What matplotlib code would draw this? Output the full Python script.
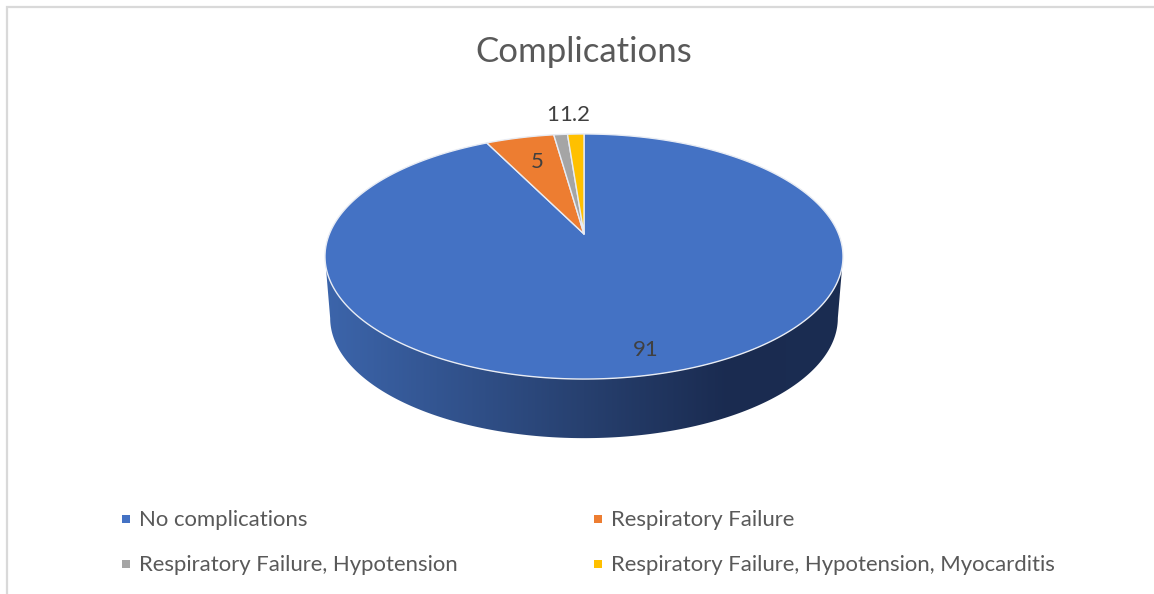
import numpy as np
import matplotlib
matplotlib.use('Agg')
import matplotlib.pyplot as plt
from matplotlib.colors import LinearSegmentedColormap
from matplotlib.patches import Polygon

plt.rcParams['font.family'] = ['Lato', 'DejaVu Sans']

categories = ['No complications', 'Respiratory Failure',
              'Respiratory Failure, Hypotension',
              'Respiratory Failure, Hypotension, Myocarditis']
values = [91, 5, 1, 1.2]
value_labels = ['91', '5', '1', '1.2']
colors = ['#4472C4', '#ED7D31', '#A5A5A5', '#FFC000']

# label anchors and legend slots, in pixels
label_xy = [(646, 350), (537, 162), (559, 115), (559, 115)]
label_ha = ['center', 'center', 'right', 'left']
legend_xy = [(126, 519), (598, 519), (126, 564), (598, 564)]

# perspective settings for the tilted disc
cx, cy = 584, 234
rx, ry = 254.6, 118.4
k = 0.1837
depth_y = 296    # centre of the lower rim
depth_scale = 0.98


def rim(theta, y0=cy, scale=1.0):
    # theta runs clockwise from 12 o'clock, in radians
    x = np.sin(theta)
    y = np.cos(theta)
    d = 1 + k * y
    return cx + scale * rx * x / d, y0 - scale * ry * y / d


fig = plt.figure(figsize=(11.54, 5.94), dpi=100)
ax = fig.add_axes([0, 0, 1, 1])

# side wall: near part of both rims between the widest points, shaded left to right
widest = np.pi / 2 + np.arcsin(k)
t = np.linspace(widest, 2 * np.pi - widest, 200)
bx, by = rim(t, depth_y, depth_scale)
tx, ty = rim(t[::-1])
wall = Polygon(np.column_stack([np.r_[bx, tx], np.r_[by, ty]]), closed=True,
               fc='none', ec='none')
ax.add_patch(wall)
shade = LinearSegmentedColormap.from_list(
    'wall', [(0, '#3C65AB'), (0.5, '#27406F'), (0.78, '#1A2B50'), (1, '#1B2D52')])
img = ax.imshow(np.linspace(0, 1, 256).reshape(1, -1), cmap=shade, aspect='auto',
                extent=(cx - rx * 1.02, cx + rx * 1.02, 460, 240), zorder=1)
img.set_clip_path(wall)

# top face, wedges run clockwise from the top with the last slice nearest 12
fractions = np.array(values) / sum(values)
ends = 2 * np.pi * np.cumsum(fractions)
starts = np.r_[0, ends[:-1]]
for start, end, color in zip(starts, ends, colors):
    t = np.linspace(start, end, max(int((end - start) * 60), 6))
    x, y = rim(t)
    ax.add_patch(Polygon(np.column_stack([np.r_[cx, x], np.r_[cy, y]]), closed=True,
                         fc=color, ec='#E8ECF4', lw=1, zorder=2, joinstyle='round'))

for xy, lab, ha in zip(label_xy, value_labels, label_ha):
    ax.text(xy[0], xy[1], lab, fontsize=16, color='#404040',
            ha=ha, va='center', zorder=3)

ax.text(584, 52, 'Complications', fontsize=25, color='#595959', ha='center', va='center')

for xy, name, color in zip(legend_xy, categories, colors):
    ax.scatter(xy[0], xy[1], s=36, marker='s', color=color, lw=0)
    ax.text(xy[0] + 13, xy[1] + 1, name, fontsize=15.9, color='#595959', ha='left', va='center')

# chart frame runs off the right and bottom
ax.plot([7, 7, 1154], [594, 7, 7], color='#D9D9D9', lw=1.6, solid_joinstyle='miter')

ax.set_xlim(0, 1154)
ax.set_ylim(594, 0)
ax.axis('off')

fig.savefig('out.png', dpi=100)
